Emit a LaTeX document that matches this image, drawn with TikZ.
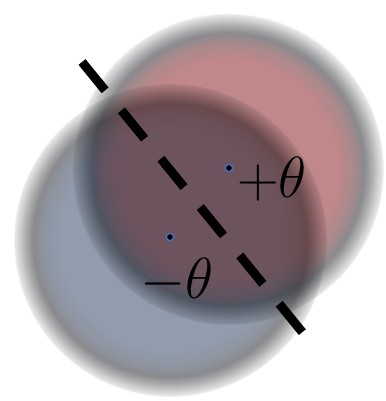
\RequirePackage{fix-cm}
\documentclass[tikz,border=0pt]{standalone}
\usepackage{tikz}
\definecolor{diskred}{RGB}{192,136,138}
\definecolor{diskblue}{RGB}{146,156,174}
\definecolor{halodark}{RGB}{138,138,142}
\definecolor{halomid}{RGB}{172,172,174}
\definecolor{halopale}{RGB}{207,207,208}
\definecolor{halolight}{RGB}{229,229,229}
\definecolor{dotblue}{RGB}{60,120,210}
\colorlet{rededge}{diskred!55!halodark}
\colorlet{blueedge}{diskblue!55!halodark}
\pgfdeclareradialshading{redglow}{\pgfpoint{0bp}{0bp}}{color(0bp)=(diskred); color(17.5bp)=(diskred); color(20.2bp)=(rededge); color(21.8bp)=(halodark); color(23bp)=(halomid); color(24bp)=(halopale); color(24.7bp)=(halolight); color(25bp)=(white); color(50bp)=(white)}
\pgfdeclareradialshading{blueglow}{\pgfpoint{0bp}{0bp}}{color(0bp)=(diskblue); color(17.5bp)=(diskblue); color(20.2bp)=(blueedge); color(21.8bp)=(halodark); color(23bp)=(halomid); color(24bp)=(halopale); color(24.7bp)=(halolight); color(25bp)=(white); color(50bp)=(white)}

\begin{document}
\begin{tikzpicture}[
    x=0.5pt, y=-0.5pt,
    glow/.style={blend mode=multiply},
    spot/.style={circle, fill=black, draw=dotblue, line width=0.6pt, inner sep=0pt, minimum size=3.6pt},
    thetalabel/.style={font=\fontsize{29}{34}\selectfont, inner sep=0pt},
    cut/.style={line width=4.5pt, dash pattern=on 18.3pt off 12.9pt}
]
    \useasboundingbox (0,0) rectangle (385,401);

    % Two blurred discs
    \shade[glow, shading=blueglow] (170,240) circle (157);
    \shade[glow, shading=redglow] (228,169) circle (156);

    % Dashed cut
    \coordinate (cuttop) at (82,62);
    \coordinate (cutbot) at (303,333);
    \draw[cut] (cuttop) -- (cutbot);

    % Centres and labels
    \node[spot] (plus) at (229,168) {};
    \node[spot] (minus) at (170,237) {};
    \node[thetalabel] (pluslabel) at (272,179) {$+\theta$};
    \node[thetalabel] (minuslabel) at (177,281) {$-\theta$};
\end{tikzpicture}
\end{document}
